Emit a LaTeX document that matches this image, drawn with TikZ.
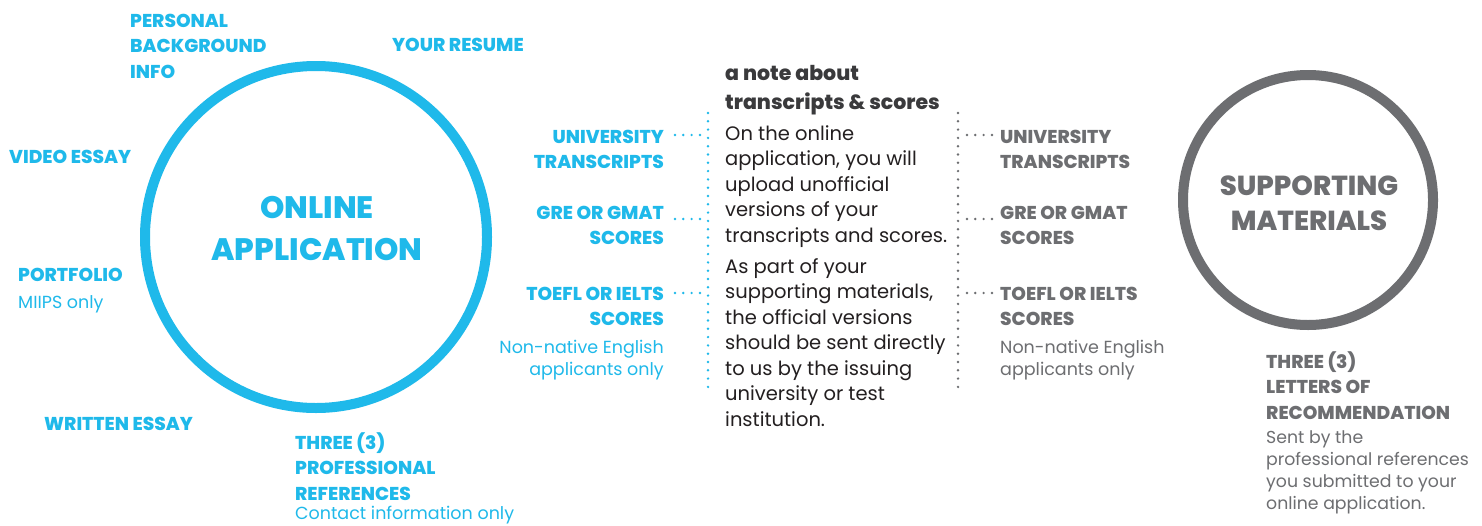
\documentclass[tikz,border=0pt]{standalone}
\usepackage{fontspec}
\setmainfont{Poppins}[BoldFont={Poppins ExtraBold}]
\definecolor{cblue}{HTML}{1FB9EA}
\definecolor{cgray}{HTML}{6D6E71}
\definecolor{ctext}{HTML}{231F20}
\definecolor{ctitle}{HTML}{3A3A3C}
\tikzset{
  lbl/.style={inner sep=0, font=\bfseries\fontsize{18.6}{25.6}\selectfont},
  sml/.style={inner sep=0, font=\fontsize{17.5}{22}\selectfont},
  body/.style={inner sep=0, text=ctext, font=\fontsize{19.5}{25.5}\selectfont},
  ttl/.style={inner sep=0, text=ctitle, font=\bfseries\fontsize{20.5}{29}\selectfont},
  big/.style={inner sep=0, font=\bfseries\fontsize{31}{42}\selectfont},
  bigg/.style={inner sep=0, font=\bfseries\fontsize{27.5}{35}\selectfont},
  ring/.style={circle, draw=#1, line width=10pt, inner sep=0},
  dotline/.style={draw=#1, line width=2.7pt, line cap=round, dash pattern=on 0pt off 8.3pt},
}
\begin{document}
\begin{tikzpicture}[x=1pt,y=-1pt]
\useasboundingbox (0,0) rectangle (1482,525);
\fill[white] (0,0) rectangle (1482,525);

% circles
\node[ring=cblue, minimum size=342pt] (online) at (316,237) {};
\node[ring=cgray, minimum size=250pt] (support) at (1308,200) {};
\node[big, text=cblue, anchor=base] (onlinetxt) at (317,218)
  {\begin{tabular}[t]{@{}c@{}}ONLINE\\APPLICATION\end{tabular}};
\node[bigg, text=cgray, anchor=base] (supporttxt) at (1309,195)
  {\begin{tabular}[t]{@{}c@{}}SUPPORTING\\MATERIALS\end{tabular}};

% left blue labels
\node[lbl, text=cblue, anchor=base west] (personal) at (130,27)
  {\begin{tabular}[t]{@{}l@{}}PERSONAL\\BACKGROUND\\INFO\end{tabular}};
\node[lbl, text=cblue, anchor=base west] (resume) at (392,51) {YOUR RESUME};
\node[lbl, text=cblue, anchor=base west] (video) at (9,163) {VIDEO ESSAY};
\node[lbl, text=cblue, anchor=base west] (portfolio) at (18,281) {PORTFOLIO};
\node[sml, text=cblue, anchor=base west] (miips) at (18,308) {MIIPS only};
\node[lbl, text=cblue, anchor=base west] (written) at (44,430) {WRITTEN ESSAY};
\node[lbl, text=cblue, anchor=base west] (refs) at (295,449)
  {\begin{tabular}[t]{@{}l@{}}THREE (3)\\PROFESSIONAL\\REFERENCES\end{tabular}};
\node[sml, text=cblue, anchor=base west] (contact) at (295,519) {Contact information only};

% middle blue labels
\node[lbl, text=cblue, anchor=base east] (buni) at (664,143)
  {\begin{tabular}[t]{@{}r@{}}UNIVERSITY\\TRANSCRIPTS\end{tabular}};
\node[lbl, text=cblue, anchor=base east] (bgre) at (664,219)
  {\begin{tabular}[t]{@{}r@{}}GRE OR GMAT\\SCORES\end{tabular}};
\node[lbl, text=cblue, anchor=base east] (btoefl) at (664,300)
  {\begin{tabular}[t]{@{}r@{}}TOEFL OR IELTS\\SCORES\end{tabular}};
\node[sml, text=cblue, anchor=base east] (bnon) at (664,353)
  {\begin{tabular}[t]{@{}r@{}}Non-native English\\applicants only\end{tabular}};

% note
\node[ttl, anchor=base west] (notettl) at (725,80)
  {\begin{tabular}[t]{@{}l@{}}a note about\\transcripts \& scores\end{tabular}};
\node[body, anchor=base west] (notebody) at (725,140)
  {\begin{tabular}[t]{@{}l@{}}On the online\\application, you will\\upload unofficial\\versions of your\\transcripts and scores.\\[5.5pt]
  As part of your\\supporting materials,\\the official versions\\should be sent directly\\to us by the issuing\\university or test\\institution.\end{tabular}};

% right gray labels
\node[lbl, text=cgray, anchor=base west] (guni) at (1000,143)
  {\begin{tabular}[t]{@{}l@{}}UNIVERSITY\\TRANSCRIPTS\end{tabular}};
\node[lbl, text=cgray, anchor=base west] (ggre) at (1000,219)
  {\begin{tabular}[t]{@{}l@{}}GRE OR GMAT\\SCORES\end{tabular}};
\node[lbl, text=cgray, anchor=base west] (gtoefl) at (1000,300)
  {\begin{tabular}[t]{@{}l@{}}TOEFL OR IELTS\\SCORES\end{tabular}};
\node[sml, text=cgray, anchor=base west] (gnon) at (1000,353)
  {\begin{tabular}[t]{@{}l@{}}Non-native English\\applicants only\end{tabular}};
\node[lbl, text=cgray, anchor=base west] (letters) at (1266,368)
  {\begin{tabular}[t]{@{}l@{}}THREE (3)\\LETTERS OF\\RECOMMENDATION\end{tabular}};
\node[sml, text=cgray, anchor=base west] (sent) at (1266,443)
  {\fontsize{17.3}{22.3}\selectfont\begin{tabular}[t]{@{}l@{}}Sent by the\\professional references\\you submitted to your\\online application.\end{tabular}};

% dotted connectors
\coordinate (lt) at (708,113);
\coordinate (lb) at (708,392);
\coordinate (rt) at (958,113);
\coordinate (rb) at (958,392);
\path[dotline=cblue] (lt) -- (lb);
\path[dotline=cgray] (rt) -- (rb);
\coordinate (b1) at (675,135);
\coordinate (b2) at (675,219);
\coordinate (b3) at (675,293);
\coordinate (g1) at (967,135);
\coordinate (g2) at (967,219);
\coordinate (g3) at (967,293);
\path[dotline=cblue] (b1) -- ([xshift=-7.5pt]b1 -| lt);
\path[dotline=cblue] (b2) -- ([xshift=-7.5pt]b2 -| lt);
\path[dotline=cblue] (b3) -- ([xshift=-7.5pt]b3 -| lt);
\path[dotline=cgray] (g1) -- ([xshift=26pt]g1);
\path[dotline=cgray] (g2) -- ([xshift=26pt]g2);
\path[dotline=cgray] (g3) -- ([xshift=26pt]g3);
\end{tikzpicture}
\end{document}
